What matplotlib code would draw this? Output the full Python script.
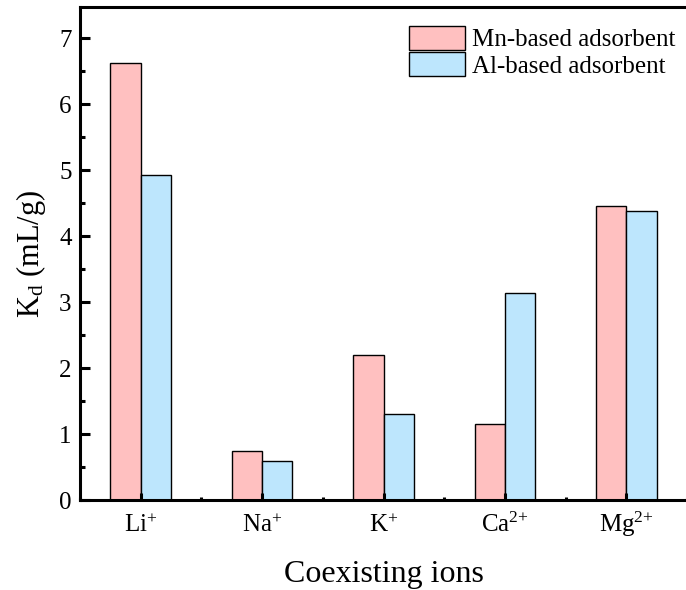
import numpy as np
import matplotlib
matplotlib.use("Agg")
from matplotlib import pyplot as plt
from matplotlib.ticker import MultipleLocator

ions = ["Li$^{+}$", "Na$^{+}$", "K$^{+}$", "Ca$^{2{+}}$", "Mg$^{2{+}}$"]
mn_kd = [6.62, 0.74, 2.20, 1.15, 4.46]
al_kd = [4.92, 0.59, 1.31, 3.14, 4.38]

plt.rcParams["font.family"] = ["Liberation Serif", "DejaVu Serif"]
plt.rcParams["mathtext.fontset"] = "custom"
plt.rcParams["mathtext.rm"] = "Liberation Serif"
plt.rcParams["mathtext.it"] = "Liberation Serif:italic"
plt.rcParams["mathtext.bf"] = "Liberation Serif:bold"

fig = plt.figure(figsize=(6.86, 5.90), dpi=100)
ax = fig.add_axes([0.1166, 0.1525, 0.885, 0.8356])

x = np.arange(len(ions))
w = 0.25
ax.bar(x - w / 2, mn_kd, w, color="#FFC0C0", edgecolor="black", linewidth=1.0,
       label="Mn-based adsorbent")
ax.bar(x + w / 2, al_kd, w, color="#BDE6FD", edgecolor="black", linewidth=1.0,
       label="Al-based adsorbent")

ax.set_xlim(-0.5, 4.5)
ax.set_ylim(0, 7.47)
ax.set_xticks(x)
ax.set_xticklabels(ions, fontsize=18)
for lbl in ax.get_xticklabels():
    lbl.set_va("baseline")
ax.xaxis.set_minor_locator(MultipleLocator(0.5))
ax.yaxis.set_major_locator(MultipleLocator(1))
ax.yaxis.set_minor_locator(MultipleLocator(0.5))
ax.tick_params(axis="y", which="major", direction="in", length=7, width=2.2, labelsize=18, pad=6)
ax.tick_params(axis="y", which="minor", direction="in", length=3.5, width=2.2)
ax.tick_params(axis="x", which="major", direction="in", length=5, width=2.2, pad=23)
ax.tick_params(axis="x", which="minor", direction="in", length=2.5, width=2.2)
for s in ax.spines.values():
    s.set_linewidth(2.2)

ax.set_xlabel("Coexisting ions", fontsize=23, labelpad=15)
ax.set_ylabel("K$_\\mathrm{d}$ (mL/g)", fontsize=22, labelpad=8)

ax.legend(loc="upper right", bbox_to_anchor=(1.01, 0.998), frameon=False, fontsize=18,
          handlelength=2.25, handleheight=1.1, labelspacing=0.05, handletextpad=0.3,
          borderpad=0.2)

plt.savefig("out.png", dpi=100)
